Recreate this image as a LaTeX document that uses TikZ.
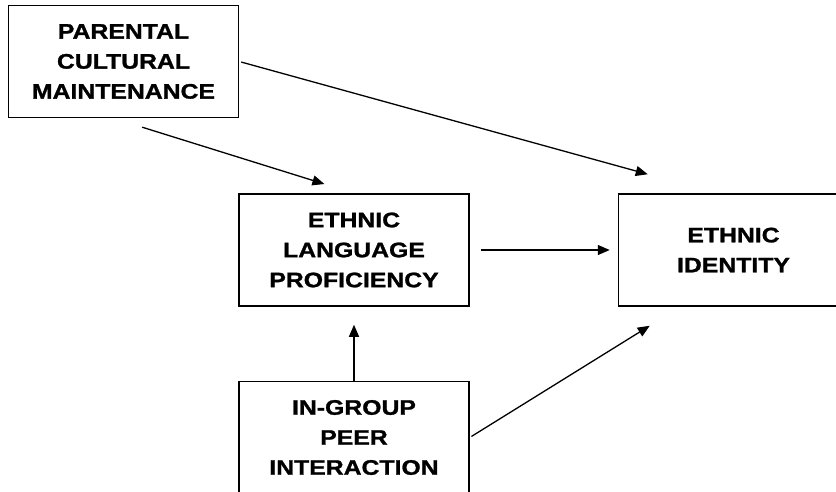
\documentclass[tikz,border=0pt]{standalone}
\usepackage{fontspec}
\setmainfont{Liberation Sans}[FakeStretch=1.18, FakeBold=1.2]
\usetikzlibrary{positioning, calc, arrows.meta}

\tikzset{
    factor/.style={draw, line width=1.5pt, minimum width=230pt, minimum height=112pt,
        inner sep=0pt, align=center, font=\fontsize{21}{30}\selectfont\bfseries},
    path/.style={line width=1.3pt, -{Triangle[length=12pt, width=10pt]}},
}

\begin{document}
\begin{tikzpicture}[x=1pt, y=-1pt]
    \useasboundingbox (0,0) rectangle (836,491);

    \node[factor] at (123.5,61.5)                    (Parental)  {PARENTAL\\CULTURAL\\MAINTENANCE};
    \node[factor, below right=75pt and -1pt of Parental] (Language)  {ETHNIC\\LANGUAGE\\PROFICIENCY};
    \node[factor, right=148pt of Language]            (Identity)  {ETHNIC\\IDENTITY};
    \node[factor, below=74pt of Language]             (Peer)      {IN-GROUP\\PEER\\INTERACTION};

    \coordinate (Identity top)    at ($(Identity.north west)+(30,-19)$);
    \coordinate (Identity bottom) at ($(Identity.south west)+(32,19)$);

    \draw[path, shorten <=30pt, shorten >=31pt] ($(Parental.south)+(-10,0)$) -- (Language.north);
    \draw[path, shorten <=2pt] (Parental.east) -- (Identity top);
    \draw[path, shorten <=11pt, shorten >=8pt] (Language.east) -- (Identity.west);
    \draw[path, shorten >=18pt] (Peer.north) -- (Language.south);
    \draw[path, shorten <=2pt] (Peer.east) -- (Identity bottom);
\end{tikzpicture}
\end{document}
